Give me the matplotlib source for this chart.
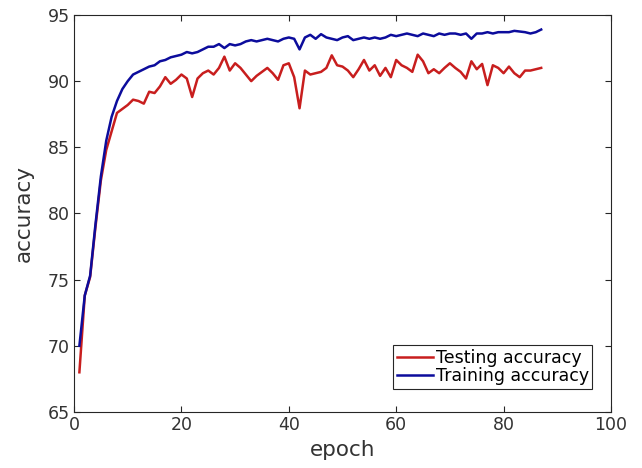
import matplotlib
matplotlib.use("Agg")
import matplotlib.pyplot as plt

epochs = list(range(1, 88))
testing_acc = [68.0, 73.8, 75.2, 79.0, 82.5, 84.8, 86.2, 87.6, 87.9, 88.2,
               88.6, 88.5, 88.3, 89.2, 89.1, 89.6, 90.3, 89.8, 90.1, 90.5,
               90.2, 88.8, 90.2, 90.6, 90.8, 90.5, 91.0, 91.85, 90.8, 91.35,
               91.0, 90.5, 90.0, 90.4, 90.7, 91.0, 90.6, 90.1, 91.2, 91.35,
               90.3, 87.95, 90.8, 90.5, 90.6, 90.7, 91.0, 91.95, 91.2, 91.1,
               90.8, 90.3, 90.9, 91.6, 90.8, 91.2, 90.4, 91.0, 90.3, 91.6,
               91.2, 91.0, 90.7, 92.0, 91.5, 90.6, 90.9, 90.6, 91.0, 91.35,
               91.0, 90.7, 90.2, 91.5, 90.9, 91.3, 89.7, 91.2, 91.0, 90.6,
               91.1, 90.6, 90.3, 90.8, 90.8, 90.9, 91.0]
training_acc = [70.0, 73.8, 75.3, 79.2, 82.8, 85.5, 87.3, 88.5, 89.4, 90.0,
                90.5, 90.7, 90.9, 91.1, 91.2, 91.5, 91.6, 91.8, 91.9, 92.0,
                92.2, 92.1, 92.2, 92.4, 92.6, 92.6, 92.8, 92.5, 92.8, 92.7,
                92.8, 93.0, 93.1, 93.0, 93.1, 93.2, 93.1, 93.0, 93.2, 93.3,
                93.2, 92.4, 93.3, 93.5, 93.2, 93.55, 93.3, 93.2, 93.1, 93.3,
                93.4, 93.1, 93.2, 93.3, 93.2, 93.3, 93.2, 93.3, 93.5, 93.4,
                93.5, 93.6, 93.5, 93.4, 93.6, 93.5, 93.4, 93.6, 93.5, 93.6,
                93.6, 93.5, 93.6, 93.2, 93.6, 93.6, 93.7, 93.6, 93.7, 93.7,
                93.7, 93.8, 93.75, 93.7, 93.6, 93.7, 93.9]

xticks = [0, 20, 40, 60, 80, 100]
yticks = [65, 70, 75, 80, 85, 90, 95]

fig = plt.figure(figsize=(6.42, 4.68), dpi=100)
ax = fig.add_axes([0.1153, 0.1197, 0.8364, 0.8483])

ax.plot(epochs, testing_acc, color="#c81e1e", lw=1.8, label="Testing accuracy")
ax.plot(epochs, training_acc, color="#0c0c9c", lw=1.8, label="Training accuracy")

ax.set_xlim(0, 100)
ax.set_ylim(65, 95)
ax.set_xticks(xticks)
ax.set_yticks(yticks)
ax.tick_params(direction="in", top=True, right=True, length=4, width=0.8,
               colors="#262626", labelsize=12.5, labelcolor="#333333", pad=3)
for s in ax.spines.values():
    s.set_color("#262626")
    s.set_linewidth(0.8)

ax.set_xlabel("epoch", fontsize=15.5, color="#333333", labelpad=4)
ax.set_ylabel("accuracy", fontsize=15.5, color="#333333", labelpad=10)

leg = ax.legend(loc="lower right", bbox_to_anchor=(0.965, 0.058), fontsize=12.5,
                frameon=True, fancybox=False, framealpha=1, edgecolor="#262626",
                handlelength=2.1, handletextpad=0.15, borderpad=0.2,
                labelspacing=0.05, borderaxespad=0)
leg.get_frame().set_linewidth(0.8)

fig.savefig("out.png", dpi=100)
